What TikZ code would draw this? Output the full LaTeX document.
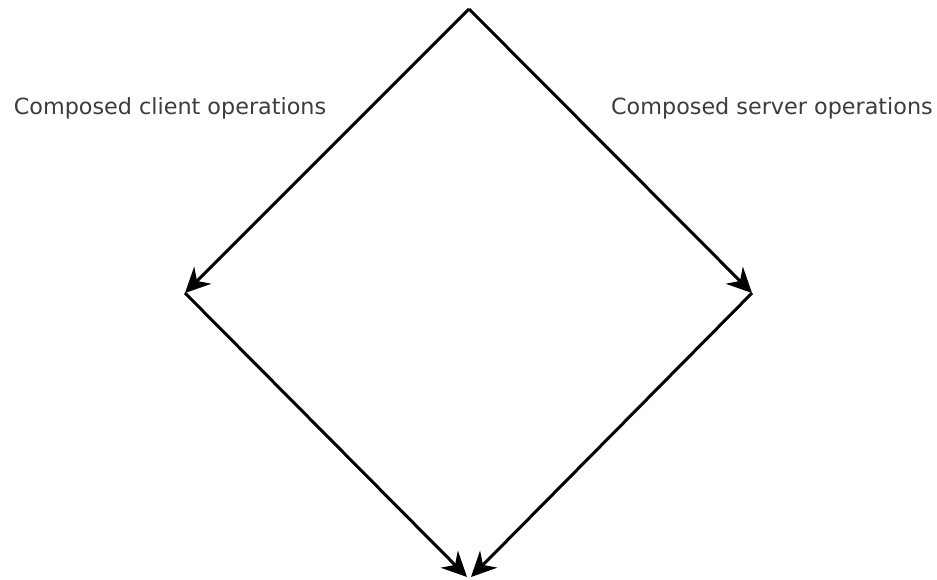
\documentclass[tikz,border=0pt]{standalone}
\usepackage{fontspec}
\setmainfont{DejaVu Sans}
\usetikzlibrary{arrows.meta}
\definecolor{labelgray}{RGB}{60,60,60}

\begin{document}
\begin{tikzpicture}[x=1pt,y=-1pt]
  \tikzset{EdgeStyle/.style={line width=3pt,-{Stealth[length=25pt,width=24pt,inset=8pt]}}}
  \tikzset{LabelStyle/.style={text=labelgray,font=\fontsize{22.3}{26}\selectfont,inner sep=0pt}}
  \useasboundingbox (0,0) rectangle (937,580);
  \coordinate (Top) at (469,9);
  \coordinate (Client) at (185,293);
  \coordinate (Server) at (752,293);
  \coordinate (EndC) at (467,577);
  \coordinate (EndS) at (471,577);
  \node[LabelStyle] (CL) at (170,108) {Composed client operations};
  \node[LabelStyle] (SL) at (772,108) {Composed server operations};
  \draw[EdgeStyle] (Top) -- (Client);
  \draw[EdgeStyle] (Top) -- (Server);
  \draw[EdgeStyle] (Client) -- (EndC);
  \draw[EdgeStyle] (Server) -- (EndS);
\end{tikzpicture}
\end{document}
